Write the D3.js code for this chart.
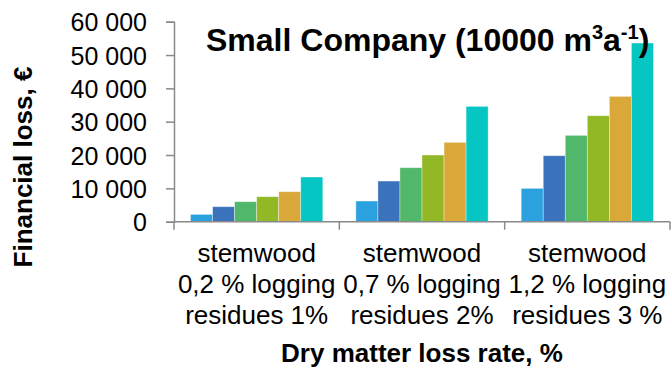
<!DOCTYPE html>
<html>
<head>
<meta charset="utf-8">
<script src="https://cdn.jsdelivr.net/npm/d3@7"></script>
<style>
  body { margin: 0; background: #fff; }
  svg { display: block; font-family: "Liberation Sans", Arial, sans-serif; }
</style>
</head>
<body>
<div id="container"></div>
<script>
// categories (multi-line labels)
const categories = [
  ['stemwood', '0,2 % logging', 'residues 1%'],
  ['stemwood', '0,7 % logging', 'residues 2%'],
  ['stemwood', '1,2 % logging', 'residues 3 %']
]
const seriesNames = ['s1', 's2', 's3', 's4', 's5', 's6']
const seriesColors = ['#2CA1E0', '#3A73BB', '#50B76B', '#93B826', '#D9A839', '#06C6C4']
// values per category, one per series
const group1 = [2200, 4500, 6000, 7500, 9000, 13400]
const group2 = [6200, 12200, 16200, 20000, 23800, 34600]
const group3 = [10000, 19800, 25900, 31800, 37600, 53600]
const yTicks = [0, 10000, 20000, 30000, 40000, 50000, 60000]

const width = 672
const height = 371
const margin = { top: 21.7, right: 2, bottom: 149.3, left: 174 }

const svg = d3.select('#container').append('svg')
  .attr('width', width).attr('height', height)

const groups = [group1, group2, group3]
const catIdx = categories.map((c, i) => i)

const xScale = d3.scaleBand()
  .domain(catIdx)
  .range([margin.left, width - margin.right])

const xInner = d3.scaleBand()
  .domain(seriesNames)
  .range([xScale.bandwidth() * 0.1, xScale.bandwidth() * 0.9])

const yScale = d3.scaleLinear()
  .domain([0, 60000])
  .range([height - margin.bottom, margin.top])

// bars
groups.forEach((vals, gi) => {
  svg.append('g')
    .attr('transform', `translate(${xScale(gi)},0)`)
    .selectAll('rect').data(vals).enter().append('rect')
    .attr('x', (d, i) => xInner(seriesNames[i]))
    .attr('y', d => yScale(d))
    .attr('width', xInner.bandwidth())
    .attr('height', d => yScale(0) - yScale(d))
    .attr('fill', (d, i) => seriesColors[i])
    .attr('stroke', '#fff')
    .attr('stroke-opacity', 0.45)
    .attr('stroke-width', 0.8)
})

const axisColor = '#8a8a8a'

// y axis
const yAxis = d3.axisLeft(yScale)
  .tickValues(yTicks)
  .tickSize(8)
  .tickPadding(19)
  .tickFormat(d => d3.format(',')(d).replace(/,/g, ' '))
const gy = svg.append('g')
  .attr('transform', `translate(${margin.left},0)`)
  .call(yAxis)
gy.select('.domain').attr('stroke', axisColor).attr('stroke-width', 1.5)
gy.selectAll('.tick line').attr('stroke', axisColor).attr('stroke-width', 1.5)
gy.selectAll('.tick text')
  .attr('fill', '#000')
  .style('font-size', '25px')
  .attr('dy', '0.36em')

// x axis: ticks on category boundaries
const xAxisG = svg.append('g')
  .attr('transform', `translate(0,${yScale(0)})`)
xAxisG.append('line')
  .attr('x1', margin.left).attr('x2', width - margin.right)
  .attr('stroke', axisColor).attr('stroke-width', 1.5)
const bounds = catIdx.map(i => xScale(i)).concat([xScale(catIdx.length - 1) + xScale.bandwidth()])
xAxisG.selectAll('.bt').data(bounds).enter().append('line')
  .attr('x1', d => d).attr('x2', d => d)
  .attr('y1', 0).attr('y2', 8)
  .attr('stroke', axisColor).attr('stroke-width', 1.5)

// category labels
const catText = svg.append('g').selectAll('text').data(categories).enter().append('text')
  .attr('text-anchor', 'middle')
  .style('font-size', '26px')
  .attr('fill', '#000')
catText.each(function (lines, i) {
  const t = d3.select(this)
  lines.forEach((ln, j) => {
    t.append('tspan')
      .attr('x', xScale(i) + xScale.bandwidth() / 2)
      .attr('y', 262 + j * 31)
      .text(ln)
  })
})

// axis titles
svg.append('text')
  .attr('x', (margin.left + width - margin.right) / 2)
  .attr('y', 362)
  .attr('text-anchor', 'middle')
  .style('font-size', '26px')
  .style('font-weight', 'bold')
  .text('Dry matter loss rate, %')

svg.append('text')
  .attr('transform', 'translate(32,167) rotate(-90)')
  .attr('text-anchor', 'middle')
  .style('font-size', '26px')
  .style('font-weight', 'bold')
  .text('Financial loss, €')

// chart title
const title = svg.append('text')
  .attr('x', 206)
  .attr('y', 51)
  .style('font-size', '32px')
  .style('font-weight', 'bold')
title.append('tspan').text('Small Company (10000 m')
title.append('tspan').attr('dy', -12).style('font-size', '20px').text('3')
title.append('tspan').attr('dy', 12).text('a')
title.append('tspan').attr('dy', -12).style('font-size', '20px').text('-1')
title.append('tspan').attr('dy', 12).text(')')
</script>
</body>
</html>
